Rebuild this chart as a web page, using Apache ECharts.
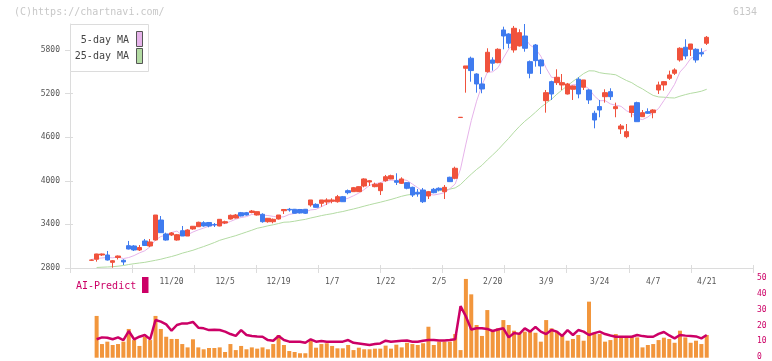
<!DOCTYPE html>
<html><head><meta charset="utf-8">
<script src="https://cdn.jsdelivr.net/npm/echarts@6/dist/echarts.min.js"></script>
<style>html,body{margin:0;padding:0;background:#fff}#c{width:772px;height:361px}</style>
</head><body><div id="c"></div>
<script>
const dates = [
'10/29','10/30','10/31','11/4','11/5','11/6','11/7','11/10','11/11','11/12',
'11/13','11/14','11/17','11/18','11/19','11/20','11/21','11/25','11/26','11/27',
'11/28','12/1','12/2','12/3','12/4','12/5','12/8','12/9','12/10','12/11',
'12/12','12/15','12/16','12/17','12/18','12/19','12/22','12/23','12/24','12/25',
'12/26','12/29','12/30','1/5','1/6','1/7','1/8','1/9','1/13','1/14',
'1/15','1/16','1/19','1/20','1/21','1/22','1/23','1/26','1/27','1/28',
'1/29','1/30','2/2','2/3','2/4','2/5','2/6','2/9','2/10','2/12',
'2/13','2/16','2/17','2/18','2/19','2/20','2/24','2/25','2/26','2/27',
'3/2','3/3','3/4','3/5','3/6','3/9','3/10','3/11','3/12','3/13',
'3/16','3/17','3/18','3/19','3/23','3/24','3/25','3/26','3/27','3/30',
'3/31','4/1','4/2','4/3','4/6','4/7','4/8','4/9','4/10','4/13',
'4/14','4/15','4/16','4/17','4/20','4/21'];
const opens = [
2906,2920,2979,2979,2878,2944,2906,3107,3103,3048,
3172,3103,3185,3460,3268,3254,3185,3313,3240,3337,
3368,3423,3426,3399,3378,3419,3474,3488,3561,3561,
3564,3529,3539,3437,3437,3474,3588,3608,3608,3605,
3608,3667,3676,3690,3708,3718,3712,3781,3864,3850,
3850,3928,3983,3919,3864,4001,4025,4001,3965,3974,
3910,3842,3873,3791,3883,3897,3850,4048,4034,4870,
5548,5686,5469,5332,5501,5662,5625,6075,6020,5800,
5855,5992,5639,5868,5662,5102,5364,5350,5318,5194,
5259,5397,5287,5249,4929,5021,5157,5226,4992,4713,
4607,4940,5075,4882,4951,4937,5249,5318,5410,5479,
5662,5837,5809,5809,5763,5892];
const closes = [
2910,2993,2993,2910,2900,2965,2883,3061,3048,3082,
3110,3158,3529,3286,3185,3282,3258,3240,3323,3374,
3429,3378,3378,3392,3470,3437,3525,3529,3516,3529,
3584,3575,3437,3484,3470,3529,3605,3598,3553,3557,
3553,3736,3635,3736,3736,3736,3781,3712,3836,3905,
3919,4025,4001,3952,3965,4056,4070,3979,4025,3897,
3804,3818,3712,3850,3836,3873,3910,3988,4172,4874,
5580,5516,5332,5263,5768,5617,5809,5992,5892,6098,
6038,5823,5479,5653,5580,5212,5194,5424,5350,5332,
5304,5194,5387,5112,4836,4974,5212,5157,5020,4754,
4676,5029,4813,4937,4929,4974,5318,5364,5456,5525,
5823,5717,5882,5662,5745,5974];
const lows = [
2896,2887,2965,2903,2804,2917,2841,3055,3034,3034,
3103,3089,3178,3282,3176,3240,3176,3240,3240,3327,
3364,3368,3360,3364,3374,3405,3467,3481,3509,3522,
3553,3522,3423,3423,3415,3467,3543,3575,3550,3550,
3543,3643,3632,3643,3667,3690,3699,3708,3814,3850,
3846,3910,3928,3910,3804,3987,4021,3942,3956,3883,
3777,3781,3694,3749,3828,3855,3749,3988,4021,4868,
5212,5363,5212,5204,5488,5515,5617,5809,5823,5763,
5848,5776,5410,5570,5469,4937,5112,5318,5249,5187,
5112,5135,5249,5057,4722,4874,5075,5112,4874,4644,
4585,4874,4813,4878,4919,4860,5194,5240,5387,5456,
5639,5672,5717,5625,5708,5868];
const highs = [
2917,2996,2999,3034,2910,2972,2920,3172,3116,3116,
3199,3199,3529,3515,3286,3295,3268,3378,3333,3378,
3437,3443,3433,3419,3474,3451,3536,3543,3571,3571,
3598,3577,3553,3488,3481,3529,3612,3626,3612,3612,
3612,3736,3690,3736,3759,3759,3805,3791,3880,3915,
3924,4034,4011,3974,3974,4080,4084,4103,4048,3979,
3919,3887,3901,3860,3901,3910,3942,4056,4194,4876,
5580,5708,5479,5424,5823,5699,5823,6120,6030,6130,
6084,6157,5655,5882,5672,5249,5377,5534,5469,5346,
5311,5424,5387,5259,4964,5112,5259,5273,5075,4781,
4781,5029,5088,4974,4997,4984,5364,5373,5515,5548,
5837,5947,5882,5823,5823,5992];
const ma5 = [
2917,2931,2938,2944,2940,2952,2930,2944,2971,3008,
3037,3092,3185,3233,3254,3288,3308,3250,3258,3295,
3325,3349,3376,3390,3409,3411,3440,3471,3495,3507,
3537,3547,3528,3522,3510,3499,3505,3537,3551,3568,
3573,3599,3607,3643,3679,3716,3725,3740,3760,3794,
3831,3879,3937,3960,3972,4000,4009,4004,4019,4005,
3955,3905,3851,3816,3804,3818,3836,3891,3956,4163,
4505,4826,5095,5313,5492,5499,5556,5688,5814,5880,
5964,5969,5866,5818,5715,5549,5424,5413,5352,5302,
5321,5321,5313,5266,5167,5101,5104,5058,5040,5024,
4964,4928,4859,4842,4877,4937,4994,5104,5208,5327,
5497,5577,5681,5722,5767,5797];
const ma25 = [
null,2807,2811,2814,2818,2825,2834,2848,2859,2869,
2878,2892,2906,2921,2940,2958,2979,3004,3024,3044,
3070,3095,3122,3150,3181,3203,3224,3245,3270,3295,
3320,3347,3362,3380,3395,3412,3430,3433,3444,3458,
3469,3488,3504,3521,3535,3547,3564,3577,3595,3612,
3631,3651,3670,3688,3705,3724,3743,3765,3787,3804,
3815,3823,3828,3840,3851,3864,3871,3885,3902,3948,
4022,4091,4156,4213,4287,4355,4426,4506,4584,4669,
4748,4818,4878,4943,5011,5067,5122,5191,5251,5310,
5368,5419,5475,5513,5511,5487,5475,5468,5458,5418,
5380,5349,5302,5264,5217,5174,5154,5150,5142,5139,
5164,5185,5203,5216,5232,5259];
const volume = [
null,26.3,8.6,10.1,8.0,8.6,10.1,18.1,11.1,7.4,
13.2,11.1,26.3,18.1,13.2,11.8,11.8,8.6,6.5,11.6,
6.5,5.3,6.1,6.1,6.5,3.6,8.6,4.8,7.4,5.3,
6.5,5.7,6.5,5.3,8.6,14.3,8.0,4.2,3.6,2.8,
2.8,11.1,6.3,8.6,9.1,7.4,5.9,5.9,8.0,4.8,
6.3,5.3,5.3,5.7,5.7,7.6,5.7,8.2,6.5,9.4,
8.6,8.0,9.1,19.5,8.0,10.1,10.1,10.1,14.9,4.8,
49.6,39.9,20.6,13.7,30.0,17.4,18.5,23.7,20.6,17.0,
15.7,16.4,17.0,15.7,10.1,23.7,18.5,16.4,13.7,10.7,
11.8,14.3,10.7,35.3,15.7,14.9,10.1,11.1,14.9,13.7,
13.7,13.7,12.8,6.5,8.0,8.6,11.1,12.6,11.8,9.4,
17.0,12.8,9.4,10.7,8.6,14.3];
const aiPredict = [
null,11.6,12.8,12.6,11.6,12.8,11.1,16.8,11.6,13.2,
14.3,11.6,23.7,22.7,21.0,17.0,20.6,21.6,21.6,22.5,
18.9,18.5,17.4,17.6,17.4,16.4,14.9,13.7,17.4,14.3,
13.7,13.4,13.2,11.1,10.7,13.7,11.1,10.1,10.1,10.1,
9.4,11.6,10.1,10.5,10.1,10.1,10.1,10.1,11.1,9.4,
9.0,8.5,8.0,8.6,9.0,10.7,10.1,10.4,10.7,10.8,
10.1,10.1,10.7,11.1,11.1,10.9,10.9,11.1,11.6,32.5,
26.0,17.8,18.5,18.5,18.1,16.8,17.8,18.5,12.8,15.5,
15.0,18.5,16.4,19.3,16.4,14.9,17.4,16.4,13.7,17.4,
14.3,17.4,16.4,14.3,15.5,16.4,14.9,14.0,13.2,13.2,
13.2,13.2,14.3,13.6,13.2,13.2,15.0,16.2,14.0,12.2,
14.3,13.9,13.7,13.4,12.2,14.3];
const priceTicks = [2800, 3400, 4000, 4600, 5200, 5800];
const dateLabels = ['11/20','12/5','12/19','1/7','1/22','2/5','2/20','3/9','3/24','4/7','4/21'];

const FONT = 'DejaVu Sans Mono';
const RED = '#f0523c', BLUE = '#3f7bef', AXIS = '#dcdcdc', MAG = '#cc0066';
const chart = echarts.init(document.getElementById('c'));
const candleData = opens.map((o, i) => [o, closes[i], lows[i], highs[i]]);
const plain = v => String(v);

const option = {
  animation: false,
  textStyle: { fontFamily: FONT },
  grid: [
    { left: 88.6, right: 62.6, top: 24, bottom: 93 },
    { left: 70, right: 19, top: 24, bottom: 93 },
    { left: 88.6, right: 62.6, top: 278.3, bottom: 3.3 },
    { left: 70, right: 19, top: 278.3, bottom: 3.3 }
  ],
  xAxis: [
    { type: 'category', gridIndex: 0, data: dates, boundaryGap: true,
      axisLine: { show: false }, axisTick: { show: false }, splitLine: { show: false },
      axisLabel: { interval: (i, v) => dateLabels.includes(v), margin: 10, fontFamily: FONT, fontSize: 8, color: '#555' } },
    { type: 'value', gridIndex: 1, min: 0, max: 11, interval: 1, position: 'bottom',
      axisLine: { show: true, onZero: false, lineStyle: { color: AXIS } },
      axisTick: { show: true, length: 5, lineStyle: { color: AXIS } },
      axisLabel: { show: false }, splitLine: { show: false } },
    { type: 'value', gridIndex: 1, min: 0, max: 11, interval: 1, position: 'bottom',
      axisLine: { show: false, onZero: false },
      axisTick: { show: true, inside: true, length: 3, lineStyle: { color: AXIS } },
      axisLabel: { show: false }, splitLine: { show: false } },
    { type: 'category', gridIndex: 2, data: dates, boundaryGap: true, show: false },
    { type: 'value', gridIndex: 3, min: 0, max: 1, show: false }
  ],
  yAxis: [
    { type: 'value', gridIndex: 0, min: 2800, max: 6157, show: false },
    { type: 'value', gridIndex: 1, min: 2800, max: 6157, position: 'left',
      axisLine: { show: true, onZero: false, lineStyle: { color: AXIS } },
      axisTick: { show: true, length: 5, customValues: priceTicks, lineStyle: { color: AXIS } },
      axisLabel: { customValues: priceTicks, formatter: plain, margin: 10, fontFamily: FONT, fontSize: 8, color: '#555' },
      splitLine: { show: false } },
    { type: 'value', gridIndex: 1, min: 2800, max: 6157, position: 'left',
      axisLine: { show: false, onZero: false },
      axisTick: { show: true, inside: true, length: 3, customValues: priceTicks, lineStyle: { color: AXIS } },
      axisLabel: { show: false }, splitLine: { show: false } },
    { type: 'value', gridIndex: 2, min: 0, max: 50, show: false },
    { type: 'value', gridIndex: 3, min: 0, max: 50, interval: 10, position: 'right',
      axisLine: { show: false }, axisTick: { show: false }, splitLine: { show: false },
      axisLabel: { margin: 4, formatter: plain, color: MAG, fontFamily: FONT, fontSize: 8 } }
  ],
  series: [
    { name: '25-day MA', type: 'line', xAxisIndex: 0, yAxisIndex: 0, data: ma25, symbol: 'none',
      lineStyle: { width: 1, color: '#b3dba3' }, z: 1, silent: true },
    { name: '5-day MA', type: 'line', xAxisIndex: 0, yAxisIndex: 0, data: ma5, symbol: 'none',
      lineStyle: { width: 1, color: '#e6b3ea' }, z: 1, silent: true },
    { name: 'price', type: 'candlestick', xAxisIndex: 0, yAxisIndex: 0, data: candleData, barWidth: 5, z: 3,
      itemStyle: { color: RED, color0: BLUE, borderColor: RED, borderColor0: BLUE, borderWidth: 1 } },
    { name: 'volume', type: 'bar', xAxisIndex: 3, yAxisIndex: 3, data: volume, barWidth: 4,
      itemStyle: { color: '#f2963c' }, z: 1 },
    { name: 'AI-Predict', type: 'line', xAxisIndex: 3, yAxisIndex: 3, data: aiPredict, symbol: 'none',
      lineStyle: { width: 2.5, color: MAG }, z: 2 }
  ],
  graphic: [
    { type: 'text', left: 14, top: 7, style: { text: '(C)https://chartnavi.com/', fill: '#c8c8c8', font: '10px "DejaVu Sans Mono"' } },
    { type: 'text', right: 15, top: 7, style: { text: '6134', fill: '#c8c8c8', font: '10px "DejaVu Sans Mono"' } },
    { type: 'rect', shape: { x: 70.5, y: 24.5, width: 78, height: 47 }, style: { fill: '#fff', stroke: AXIS, lineWidth: 1 }, z: 100 },
    { type: 'text', x: 129, y: 40.5, style: { text: '5-day MA', fill: '#444', font: '10px "DejaVu Sans Mono"', align: 'right', verticalAlign: 'middle' }, z: 101 },
    { type: 'text', x: 129, y: 56.5, style: { text: '25-day MA', fill: '#444', font: '10px "DejaVu Sans Mono"', align: 'right', verticalAlign: 'middle' }, z: 101 },
    { type: 'rect', shape: { x: 136.5, y: 31.5, width: 6, height: 15 }, style: { fill: '#e6b3ea', stroke: '#555', lineWidth: 1 }, z: 101 },
    { type: 'rect', shape: { x: 136.5, y: 48.5, width: 6, height: 15 }, style: { fill: '#b3dba3', stroke: '#555', lineWidth: 1 }, z: 101 },
    { type: 'text', x: 76, y: 286, style: { text: 'AI-Predict', fill: MAG, font: '10px "DejaVu Sans Mono"', verticalAlign: 'middle' }, z: 101 },
    { type: 'rect', shape: { x: 142, y: 277, width: 6.5, height: 16 }, style: { fill: MAG }, z: 101 }
  ]
};
chart.setOption(option);
</script>
</body></html>
